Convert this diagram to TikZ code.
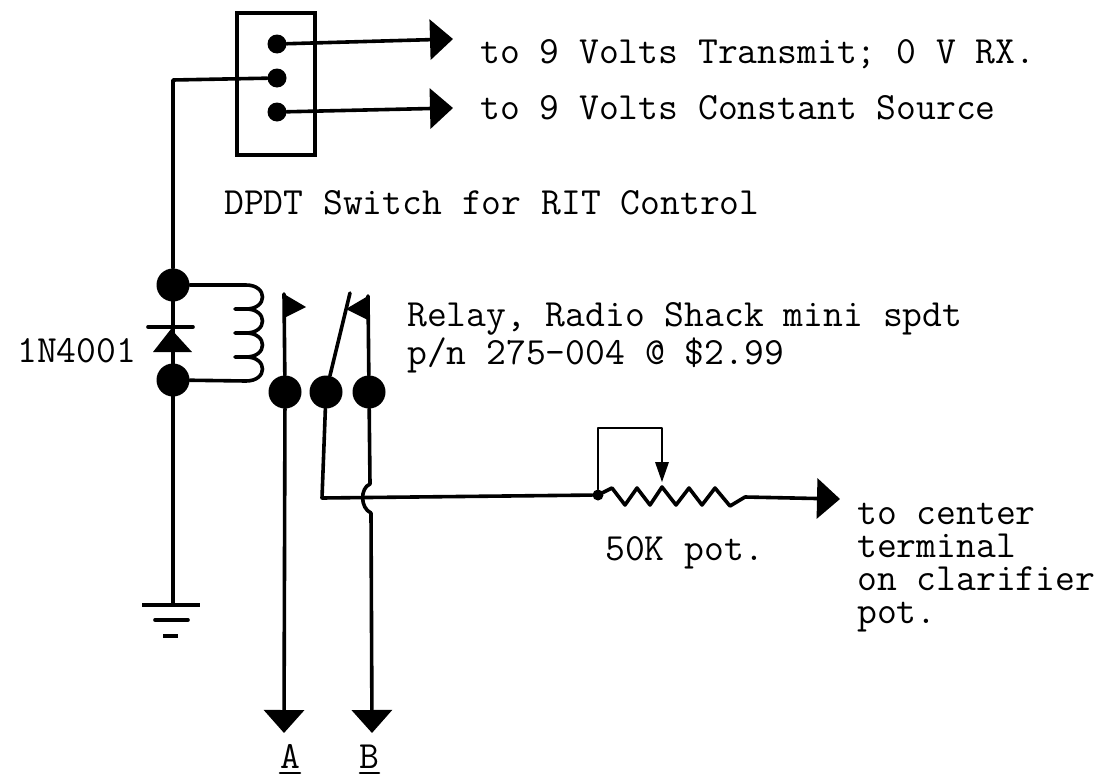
\documentclass[tikz,border=0pt]{standalone}
\usetikzlibrary{arrows.meta}
\tikzstyle{wire} = [line width=3.6pt,line join=round,line cap=round]
\tikzstyle{thin wire} = [line width=2.6pt,line join=round,line cap=round]
\tikzstyle{big arrow} = [wire,-{Triangle[length=23pt,width=40pt]}]
\tikzstyle{dot} = [circle,fill=black,inner sep=0pt,minimum size=19pt]
\tikzstyle{bigdot} = [circle,fill=black,inner sep=0pt,minimum size=33pt]
\tikzstyle{txt} = [anchor=base west,inner sep=0pt,font=\fontsize{38.5}{33}\selectfont\ttfamily]

\begin{document}
\begin{tikzpicture}[x=1pt,y=-1pt]
    \useasboundingbox (0,0) rectangle (1108,779);

    % switch
    \node[draw,line width=3.2pt,minimum width=78pt,minimum height=142pt,inner sep=0pt] (sw) at (276,84) {};
    \node[dot] (s1) at (277,44) {};
    \node[dot] (s2) at (277,78) {};
    \node[dot] (s3) at (277,112) {};
    \coordinate (t1) at (453,39);
    \coordinate (t2) at (453,108);
    \draw[big arrow] (s1) -- (t1);
    \draw[big arrow] (s3) -- (t2);

    % relay
    \node[bigdot] (j1) at (173,285) {};
    \node[bigdot] (j2) at (173,380) {};
    \node[bigdot] (c1) at (285,392) {};
    \node[bigdot] (c2) at (326,392) {};
    \node[bigdot] (c3) at (369,392) {};
    \draw[wire] (s2) -- (173,80) -- (j1);
    \draw[wire] (j1) -- (j2);

    \draw[wire] (j1) -- (246,285)
        .. controls (268,285) and (268,309) .. (246,309) -- (235,309) -- (246,309)
        .. controls (268,309) and (268,333) .. (246,333) -- (235,333) -- (246,333)
        .. controls (268,333) and (268,357) .. (246,357) -- (235,357) -- (246,357)
        .. controls (268,357) and (268,381) .. (246,381) -- (j2);

    % diode
    \draw[wire] (148,327) -- (193,327);
    \fill (171,329) -- (192,352) -- (153,352) -- cycle;

    % contacts
    \coordinate (f1) at (284,294);
    \coordinate (f2) at (368,296);
    \coordinate (arm) at (350,293);
    \draw[wire] (c1) -- (f1);
    \draw[wire] (c3) -- (f2);
    \draw[wire] (c2) -- (arm);
    \fill (f1) -- (306,307) -- (284,318) -- cycle;
    \fill (f2) -- (346,309) -- (368,320) -- cycle;

    % outputs
    \coordinate (a) at (284,733);
    \coordinate (b) at (372,733);
    \coordinate (p) at (840,499);
    \coordinate (w) at (598,495);
    \draw[big arrow] (c1) -- (a);
    \draw[wire] (c3) -- (370,484) .. controls (360,488) and (360,508) .. (371,513);
    \draw[big arrow] (371,513) -- (b);

    % pot
    \node[circle,fill=black,inner sep=0pt,minimum size=11pt] (w0) at (w) {};
    \draw[wire] (c2) -- (322,498) -- (w0);
    \draw[thin wire] (w0) -- (598,428) -- (662,428) -- (662,464);
    \fill (655,462) -- (669,462) -- (662,482) -- cycle;
    \draw[wire] (w0) -- (612,488) -- (625,505) -- (637,488) -- (650,505) -- (662,487)
        -- (676,505) -- (689,488) -- (702,505) -- (715,488) -- (730,506) -- (745,497);
    \draw[big arrow] (745,497) -- (p);

    % ground
    \draw[wire] (j2) -- (173,605);
    \draw[line width=4.4pt] (142,605) -- (200,605);
    \draw[wire] (155,620) -- (188,620);
    \draw[line width=4.4pt] (163,636) -- (178,636);

    % text
    \node[txt] (t1txt) at (480,63) {to 9 Volts Transmit; 0 V RX.};
    \node[txt] (t2txt) at (480,119) {to 9 Volts Constant Source};
    \node[txt] (swtxt) at (224,214) {DPDT Switch for RIT Control};
    \node[txt] (rel1) at (407,326) {Relay, Radio Shack mini spdt};
    \node[txt] (rel2) at (407,364) {p/n 275-004 @ \$2.99};
    \node[txt] (dtxt) at (17,362) {1N4001};
    \node[txt] (ptxt) at (605,560) {50K pot.};
    \node[txt,anchor=north west,align=left] (otxt) at (857,503) {to center\\terminal\\on clarifier\\pot.};
    \node[txt,anchor=base] (la) at (290,768) {A};
    \node[txt,anchor=base] (lb) at (369,768) {B};
    \draw[thin wire] (280,773) -- (300,773);
    \draw[thin wire] (360,773) -- (379,773);
\end{tikzpicture}
\end{document}
